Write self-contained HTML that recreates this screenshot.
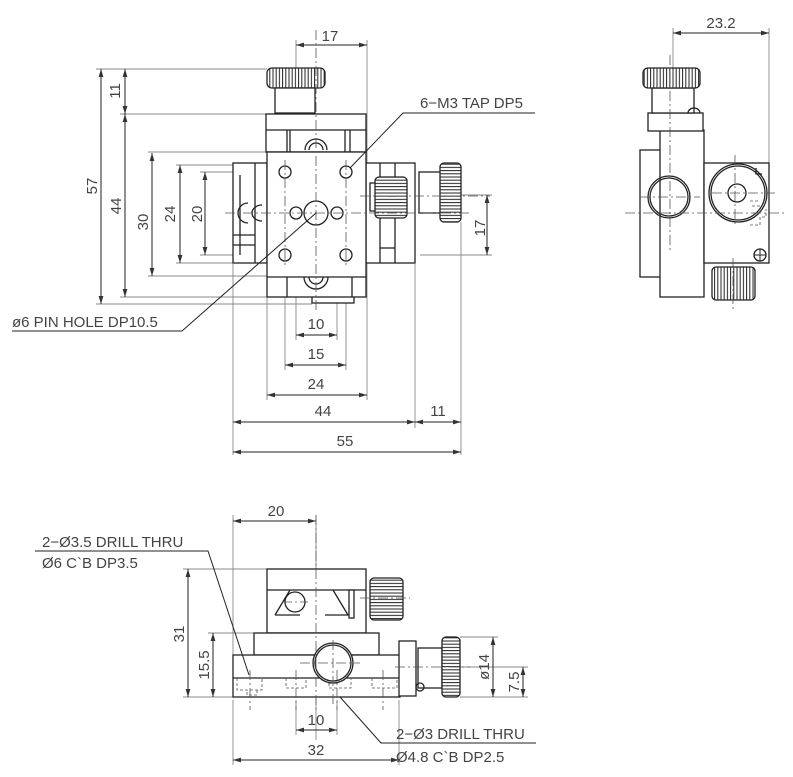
<!DOCTYPE html>
<html><head><meta charset="utf-8"><style>
html,body{margin:0;padding:0;background:#fff}
svg{display:block}
text{font-family:"Liberation Sans",sans-serif;font-size:15px;fill:#444}
.o{fill:none;stroke:#222;stroke-width:1.3}
.w{fill:#fff;stroke:#222;stroke-width:1.3}
.d{fill:none;stroke:#888;stroke-width:0.9}
.k{fill:none;stroke:#222;stroke-width:1}
.c{fill:none;stroke:#555;stroke-width:0.8;stroke-dasharray:10 3 2 3}
.h{fill:none;stroke:#555;stroke-width:0.8;stroke-dasharray:3 2}
</style></head><body>
<svg width="793" height="777" viewBox="0 0 793 777" xmlns="http://www.w3.org/2000/svg">
<defs>
<marker id="a" viewBox="0 0 10 6" refX="10" refY="3" markerWidth="8" markerHeight="5" orient="auto-start-reverse"><path d="M0,0L10,3L0,6z" fill="#333"/></marker>
<pattern id="kn" width="3.2" height="10" patternUnits="userSpaceOnUse"><rect width="3.2" height="10" fill="#fff"/><line x1="1" y1="0" x2="1" y2="10" stroke="#222" stroke-width="1"/></pattern>
<pattern id="knh" width="10" height="3.2" patternUnits="userSpaceOnUse"><rect width="10" height="3.2" fill="#fff"/><line x1="0" y1="1" x2="10" y2="1" stroke="#222" stroke-width="1"/></pattern>
</defs>

<!-- ============ TOP VIEW ============ -->
<g class="d">
<line x1="96" y1="69" x2="267" y2="69"/><line x1="120" y1="114" x2="267" y2="114"/>
<line x1="120" y1="297" x2="267" y2="297"/><line x1="96" y1="304" x2="312" y2="304"/>
<line x1="148" y1="152" x2="267" y2="152"/><line x1="148" y1="276" x2="267" y2="276"/>
<line x1="176" y1="165" x2="233" y2="165"/><line x1="176" y1="263" x2="233" y2="263"/>
<line x1="200" y1="172" x2="285" y2="172"/><line x1="200" y1="255" x2="285" y2="255"/>
<line x1="296" y1="40" x2="296" y2="340"/><line x1="367" y1="40" x2="367" y2="400"/>
<line x1="337" y1="220" x2="337" y2="340"/><line x1="285" y1="260" x2="285" y2="370"/><line x1="346" y1="260" x2="346" y2="370"/>
<line x1="267" y1="297" x2="267" y2="400"/><line x1="233" y1="264" x2="233" y2="455"/>
<line x1="415" y1="264" x2="415" y2="428"/><line x1="461" y1="222" x2="461" y2="455"/>
<line x1="420" y1="195" x2="492" y2="195"/><line x1="420" y1="255" x2="492" y2="255"/>
</g>
<g class="k" marker-start="url(#a)" marker-end="url(#a)">
<line x1="101" y1="69" x2="101" y2="304"/>
<line x1="125" y1="69" x2="125" y2="114"/>
<line x1="125" y1="114" x2="125" y2="297"/>
<line x1="152" y1="153" x2="152" y2="276"/>
<line x1="180" y1="165" x2="180" y2="263"/>
<line x1="205" y1="172" x2="205" y2="255"/>
<line x1="296" y1="45" x2="367" y2="45"/>
<line x1="296" y1="335" x2="337" y2="335"/>
<line x1="285" y1="365" x2="346" y2="365"/>
<line x1="267" y1="395" x2="367" y2="395"/>
<line x1="233" y1="422" x2="415" y2="422"/>
<line x1="415" y1="422" x2="461" y2="422"/>
<line x1="233" y1="452" x2="461" y2="452"/>
<line x1="487" y1="195" x2="487" y2="255"/>
</g>
<text x="330" y="41" text-anchor="middle">17</text>
<text transform="translate(120,91) rotate(-90)" text-anchor="middle">11</text>
<text transform="translate(97,186) rotate(-90)" text-anchor="middle">57</text>
<text transform="translate(121,206) rotate(-90)" text-anchor="middle">44</text>
<text transform="translate(148,222) rotate(-90)" text-anchor="middle">30</text>
<text transform="translate(175,214) rotate(-90)" text-anchor="middle">24</text>
<text transform="translate(202,214) rotate(-90)" text-anchor="middle">20</text>
<text transform="translate(485,228) rotate(-90)" text-anchor="middle">17</text>
<text x="316" y="329" text-anchor="middle">10</text>
<text x="316" y="359" text-anchor="middle">15</text>
<text x="316" y="389" text-anchor="middle">24</text>
<text x="323" y="416" text-anchor="middle">44</text>
<text x="438" y="416" text-anchor="middle">11</text>
<text x="345" y="446" text-anchor="middle">55</text>

<rect class="w" x="233" y="163" width="34" height="100"/>
<rect class="w" x="366" y="163" width="49" height="100"/>
<line class="o" x1="255" y1="163" x2="255" y2="263"/><line class="o" x1="240" y1="175" x2="240" y2="255"/>
<line class="o" x1="233" y1="235" x2="255" y2="235"/><line class="o" x1="233" y1="245" x2="255" y2="245"/>
<line class="o" x1="395" y1="163" x2="395" y2="263"/><line class="o" x1="380" y1="163" x2="380" y2="263"/>
<line class="o" x1="380" y1="248" x2="395" y2="248"/>
<path class="o" d="M248,203 a10,10 0 0 0 0,20 M262,205 a10,8 0 0 0 0,16"/>
<rect x="267" y="68" width="58" height="20" rx="5" style="fill:url(#kn);stroke:#222;stroke-width:1.3"/>
<rect class="w" x="275" y="88" width="40" height="25"/>
<rect class="w" x="266" y="114" width="100" height="38"/>
<line class="o" x1="266" y1="130" x2="366" y2="130"/>
<line class="o" x1="287" y1="130" x2="287" y2="152"/><line class="o" x1="290" y1="130" x2="290" y2="152"/>
<line class="o" x1="345" y1="130" x2="345" y2="152"/><line class="o" x1="350" y1="130" x2="350" y2="152"/>
<path class="o" d="M305,150 a11,11 0 0 1 22,0 M309,150 a7,7 0 0 1 14,0"/>
<rect class="w" x="312" y="277" width="42" height="26"/>
<rect class="w" x="267" y="152" width="99" height="145"/>
<line class="o" x1="267" y1="277" x2="366" y2="277"/>
<line class="o" x1="287" y1="277" x2="287" y2="297"/><line class="o" x1="352" y1="277" x2="352" y2="297"/>
<path class="o" d="M304,277 a12,12 0 0 0 24,0 M309,277 a7,7 0 0 0 14,0"/>
<circle class="o" cx="285" cy="172" r="6"/><circle class="o" cx="346" cy="172" r="6"/>
<circle class="o" cx="285" cy="255" r="6"/><circle class="o" cx="346" cy="255" r="6"/>
<circle class="o" cx="296" cy="213" r="6"/><circle class="o" cx="337" cy="213" r="6"/>
<circle class="o" cx="316" cy="213" r="12"/>
<rect class="w" x="370" y="183" width="6" height="28"/>
<rect x="375" y="177" width="32" height="41" rx="4" style="fill:url(#knh);stroke:#222;stroke-width:1.3"/>
<rect class="w" x="419" y="172" width="23" height="41"/>
<rect x="440" y="163" width="21" height="59" rx="4" style="fill:url(#knh);stroke:#222;stroke-width:1.3"/>
<g class="c"><line x1="316" y1="30" x2="316" y2="310"/><line x1="225" y1="213" x2="470" y2="213"/>
<line x1="285" y1="160" x2="285" y2="265"/><line x1="346" y1="160" x2="346" y2="265"/><line x1="360" y1="196" x2="490" y2="196"/></g>

<text x="420" y="108">6−M3 TAP DP5</text>
<polyline class="k" points="535,113 403,113 350,168"/>
<text x="12" y="327">ø6 PIN HOLE DP10.5</text>
<polyline class="k" points="12,331 182,331 316,213"/>

<!-- ============ SIDE VIEW ============ -->
<line class="d" x1="673" y1="28" x2="673" y2="68"/><line class="d" x1="769" y1="28" x2="769" y2="163"/>
<line class="k" x1="673" y1="33" x2="769" y2="33" marker-start="url(#a)" marker-end="url(#a)"/>
<text x="721" y="28" text-anchor="middle">23.2</text>
<rect class="w" x="640" y="150" width="22" height="127"/>
<rect class="w" x="660" y="130" width="44" height="167"/>
<rect class="w" x="648" y="113" width="55" height="18"/>
<rect class="w" x="652" y="88" width="42" height="25"/>
<path class="o" d="M688,113 a6,5 0 0 1 12,0"/>
<rect x="643" y="68" width="57" height="20" rx="5" style="fill:url(#kn);stroke:#222;stroke-width:1.3"/>
<circle class="o" cx="669" cy="197" r="21"/><circle class="o" cx="669" cy="197" r="19"/>
<rect class="w" x="704" y="163" width="65" height="100"/>
<circle class="o" cx="738" cy="193" r="29"/><circle class="o" cx="738" cy="193" r="27"/>
<circle class="o" cx="737" cy="193" r="9"/>
<circle class="o" cx="760" cy="255" r="6"/><path class="k" d="M754,255h12M760,249v12"/>
<path class="o" d="M756,168 v6 h6"/>
<path class="h" d="M750,201h10M752,206h8M750,225h10v-8h6v-8"/>
<rect x="712" y="267" width="43" height="33" rx="4" style="fill:url(#kn);stroke:#222;stroke-width:1.3"/>
<g class="c"><line x1="670" y1="55" x2="670" y2="250"/><line x1="625" y1="213" x2="785" y2="213"/>
<line x1="640" y1="197" x2="700" y2="197"/><line x1="712" y1="193" x2="775" y2="193"/>
<line x1="735" y1="155" x2="735" y2="225"/><line x1="733" y1="258" x2="733" y2="310"/></g>

<!-- ============ FRONT VIEW ============ -->
<g class="d">
<line x1="233" y1="515" x2="233" y2="655"/><line x1="316" y1="515" x2="316" y2="740"/>
<line x1="183" y1="569" x2="267" y2="569"/><line x1="183" y1="697" x2="233" y2="697"/>
<line x1="208" y1="633" x2="254" y2="633"/>
<line x1="460" y1="637" x2="498" y2="637"/><line x1="460" y1="697" x2="528" y2="697"/>
<line x1="420" y1="667" x2="528" y2="667"/>
<line x1="296" y1="700" x2="296" y2="735"/><line x1="337" y1="700" x2="337" y2="735"/>
<line x1="233" y1="700" x2="233" y2="765"/><line x1="399" y1="700" x2="399" y2="765"/>
</g>
<g class="k" marker-start="url(#a)" marker-end="url(#a)">
<line x1="233" y1="521" x2="316" y2="521"/>
<line x1="188" y1="569" x2="188" y2="697"/>
<line x1="213" y1="633" x2="213" y2="697"/>
<line x1="493" y1="637" x2="493" y2="697"/>
<line x1="523" y1="667" x2="523" y2="697"/>
<line x1="296" y1="730" x2="337" y2="730"/>
<line x1="233" y1="760" x2="399" y2="760"/>
</g>
<text x="276" y="516" text-anchor="middle">20</text>
<text transform="translate(184,634) rotate(-90)" text-anchor="middle">31</text>
<text transform="translate(209,665) rotate(-90)" text-anchor="middle">15.5</text>
<text transform="translate(489,667) rotate(-90)" text-anchor="middle">ø14</text>
<text transform="translate(519,682) rotate(-90)" text-anchor="middle">7.5</text>
<text x="316" y="725" text-anchor="middle">10</text>
<text x="316" y="755" text-anchor="middle">32</text>

<rect class="w" x="267" y="569" width="99" height="64"/>
<line class="o" x1="267" y1="590" x2="366" y2="590"/>
<path class="o" d="M275,615 L290,590 M275,615 H300 M333,590 L348,615 H325"/>
<rect class="w" x="349" y="590" width="5" height="28"/>
<circle class="o" cx="295" cy="602" r="10"/>
<rect x="370" y="578" width="33" height="42" rx="4" style="fill:url(#knh);stroke:#222;stroke-width:1.3"/>
<rect class="w" x="254" y="633" width="125" height="22"/>
<rect class="w" x="233" y="655" width="167" height="42"/>
<line class="o" x1="233" y1="678" x2="400" y2="678"/>
<path class="h" d="M237,678v12h25v-12M257,690v5h-10v-5M286,678v10h20v-10M329,678v10h22v-10M372,678v10h25v-10"/>
<circle class="w" cx="333" cy="663" r="20"/><circle class="o" cx="333" cy="663" r="18"/>
<rect class="w" x="399" y="641" width="17" height="55"/>
<rect class="w" x="418" y="648" width="24" height="40"/>
<circle class="o" cx="420" cy="687" r="4"/>
<rect x="442" y="637" width="18" height="60" rx="4" style="fill:url(#knh);stroke:#222;stroke-width:1.3"/>
<g class="c"><line x1="316" y1="515" x2="316" y2="710"/><line x1="333" y1="640" x2="333" y2="705"/>
<line x1="300" y1="663" x2="360" y2="663"/><line x1="395" y1="667" x2="470" y2="667"/>
<line x1="360" y1="598" x2="410" y2="598"/><line x1="282" y1="602" x2="308" y2="602"/>
<line x1="250" y1="670" x2="250" y2="710"/><line x1="296" y1="670" x2="296" y2="710"/>
<line x1="337" y1="670" x2="337" y2="710"/><line x1="383" y1="670" x2="383" y2="710"/></g>

<text x="42" y="547">2−Ø3.5 DRILL THRU</text>
<text x="42" y="568">Ø6 C`B DP3.5</text>
<polyline class="k" points="35,551 208,551 249,675"/>
<text x="396" y="739">2−Ø3 DRILL THRU</text>
<text x="396" y="762">Ø4.8 C`B DP2.5</text>
<polyline class="k" points="536,743 381,743 340,697"/>
</svg>
</body></html>
